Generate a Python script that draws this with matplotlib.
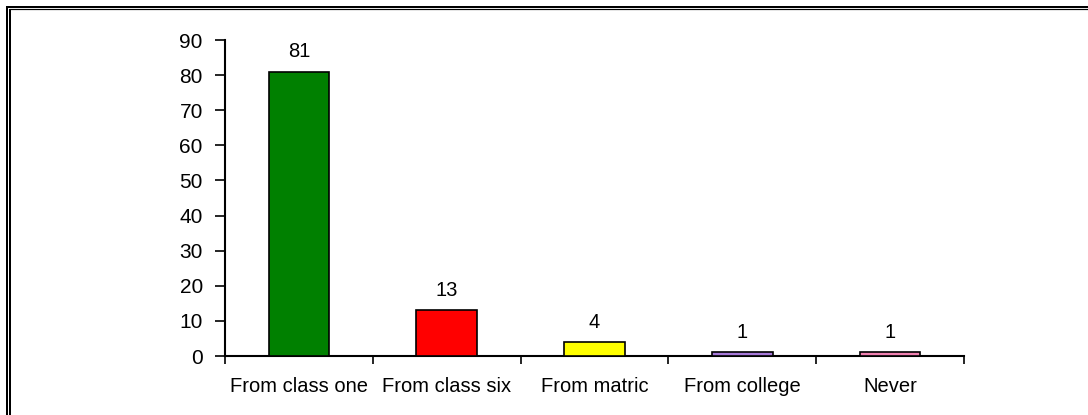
import matplotlib
matplotlib.use("Agg")
import matplotlib.pyplot as plt  # noqa: E402
from matplotlib.lines import Line2D  # noqa: E402
import numpy as np  # noqa: E402

categories = ["From class one", "From class six", "From matric", "From college", "Never"]
values = [81, 13, 4, 1, 1]
bar_colors = ["#008000", "#FF0000", "#FFFF00", "#A678D8", "#F080B0"]
y_ticks = [0, 10, 20, 30, 40, 50, 60, 70, 80, 90]

plt.rcParams["font.family"] = ["Liberation Sans", "DejaVu Sans"]

W, H = 1088, 415
fig = plt.figure(figsize=(W / 100, H / 100), dpi=100)
ax = fig.add_axes([225 / W, 1 - 356 / H, (964 - 225) / W, (356 - 40) / H])

x = np.arange(len(categories))
bars = ax.bar(x, values, width=0.41, color=bar_colors, edgecolor="black", linewidth=1.2, zorder=3)
for b, v in zip(bars, values):
    ax.annotate(str(v), (b.get_x() + b.get_width() / 2, v), xytext=(0, 7.5),
                textcoords="offset points", ha="center", va="bottom", fontsize=14.5)

ax.set_xlim(-0.5, len(categories) - 0.5)
ax.set_ylim(0, 90)
ax.set_yticks(y_ticks)
ax.set_xticks(x)
ax.set_xticklabels(categories)
ax.set_xticks(np.arange(len(categories) + 1) - 0.5, minor=True)
ax.tick_params(axis="x", which="major", length=0, pad=15, labelsize=14.5)
ax.tick_params(axis="x", which="minor", length=6, width=1.2, direction="out")
ax.tick_params(axis="y", length=7, width=1.2, pad=9, labelsize=15)
ax.spines["top"].set_visible(False)
ax.spines["right"].set_visible(False)
ax.spines["left"].set_linewidth(1.5)
ax.spines["bottom"].set_linewidth(1.5)


# double frame round the figure (only top and left fall inside the picture)
def px_line(x0, y0, x1, y1, lw):
    fig.add_artist(Line2D([x0 / W, x1 / W], [1 - y0 / H, 1 - y1 / H], color="black",
                          linewidth=lw * 0.72, transform=fig.transFigure, solid_capstyle="butt"))


px_line(6, 7, W + 5, 7, 2)
px_line(9, 9.5, W + 5, 9.5, 1.2)
px_line(7, 6, 7, H + 5, 2)
px_line(10, 9, 10, H + 5, 2)

fig.savefig("out.png", dpi=100)
